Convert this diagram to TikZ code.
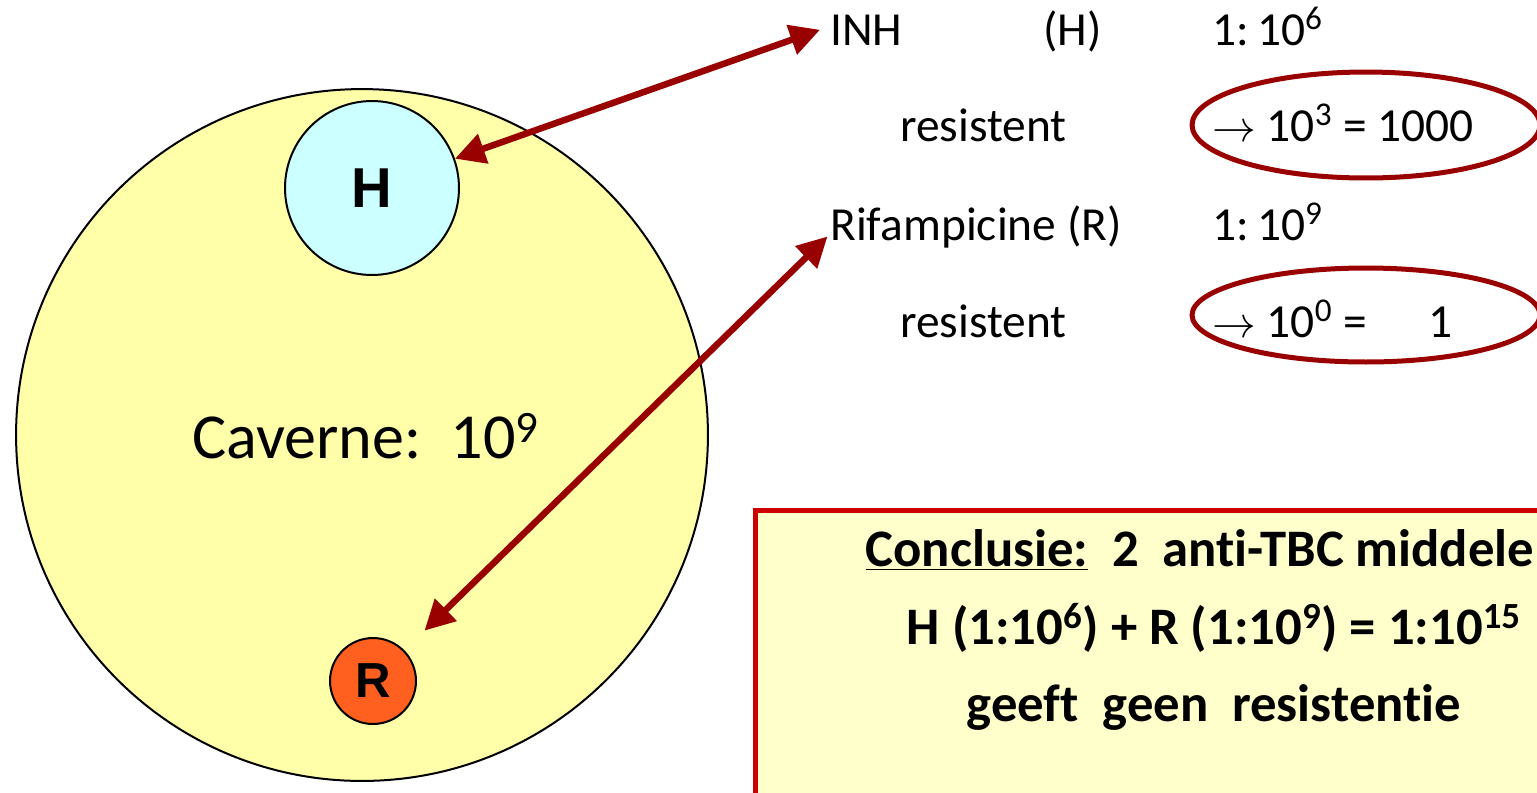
\documentclass[tikz,border=0pt]{standalone}
\usepackage{fontspec}
\setmainfont{Carlito}[Ligatures=NoCommon]
\newfontfamily\arialfont{Liberation Sans}
\usetikzlibrary{arrows.meta, positioning}
\definecolor{caverneYellow}{RGB}{255,255,170}
\definecolor{inhCyan}{RGB}{204,255,255}
\definecolor{rifOrange}{RGB}{255,96,32}
\definecolor{arrowRed}{RGB}{153,0,0}
\definecolor{boxRed}{RGB}{204,0,0}
\definecolor{boxYellow}{RGB}{255,255,204}

\tikzset{
  link/.style={draw=arrowRed, line width=0.13cm,
    {Triangle[length=0.6cm,width=0.6cm]}-{Triangle[length=0.6cm,width=0.6cm]}},
  ring/.style={draw=arrowRed, line width=0.1cm},
  row/.style={anchor=base west, inner sep=0pt, font=\fontsize{27}{32}\selectfont},
  bug/.style={circle, draw, line width=0.04cm, inner sep=0pt},
}

\begin{document}
\begin{tikzpicture}[x=0.02cm, y=-0.02cm]
\useasboundingbox (0,0) rectangle (1537,792);
\clip (0,0) rectangle (1537,792);

% de caverne met de twee subpopulaties
\node[circle, draw, line width=0.04cm, fill=caverneYellow, minimum size=13.84cm] (cav) at (362,435) {};
\node[anchor=base west, inner sep=0pt, font=\fontsize{36.5}{44}\selectfont] (cavtext) at (192,458) {Caverne:\ \ 10\textsuperscript{9}};
\node[bug, fill=inhCyan, minimum size=3.48cm, font=\arialfont\bfseries\fontsize{32}{36}\selectfont] (H) at (372,188) {H};
\node[bug, fill=rifOrange, minimum size=1.72cm, font=\arialfont\bfseries\fontsize{28}{32}\selectfont] (R) at (373,681) {R};

% middelen en mutatiefrequenties
\node[row] (inh) at (830,45) {INH};
\node[row] (inhcode) at (1043,45) {(H)};
\node[row] (inhfreq) at (1212,45) {1:\,10\textsuperscript{6}};
\node[row] (inhres) at (900,141) {resistent};
\node[row] (inhcount) at (1212,141) {$\rightarrow$ 10\textsuperscript{3} = 1000};
\node[row] (rif) at (830,240) {Rifampicine (R)};
\node[row] (riffreq) at (1212,240) {1:\,10\textsuperscript{9}};
\node[row] (rifres) at (900,337) {resistent};
\node[row] (rifcount) at (1212,337) {$\rightarrow$ 10\textsuperscript{0} =\hspace{1.3em}1};

\draw[ring] (1366,125) ellipse (3.48cm and 1.06cm);
\draw[ring] (1366,315) ellipse (3.48cm and 0.94cm);

\draw[link] (H) -- ([xshift=-0.2cm]inh.west);
\draw[link, shorten <=0.56cm] (R) -- ([xshift=-0.05cm,yshift=-0.2cm]rif.west);

% conclusie
\node[draw=boxRed, fill=boxYellow, line width=0.1cm, anchor=north west,
      minimum width=18.44cm, minimum height=7cm] (box) at (753,508) {};
\node[align=center, font=\bfseries\fontsize{30}{44}\selectfont] (concl) at (1214,630) {
  \underline{Conclusie:}\ \ 2\ \ anti-TBC middelen\\
  H (1:10\textsuperscript{6}) + R (1:10\textsuperscript{9}) = 1:10\textsuperscript{15}\\
  geeft\ \ geen\ \ resistentie
};
\end{tikzpicture}
\end{document}
